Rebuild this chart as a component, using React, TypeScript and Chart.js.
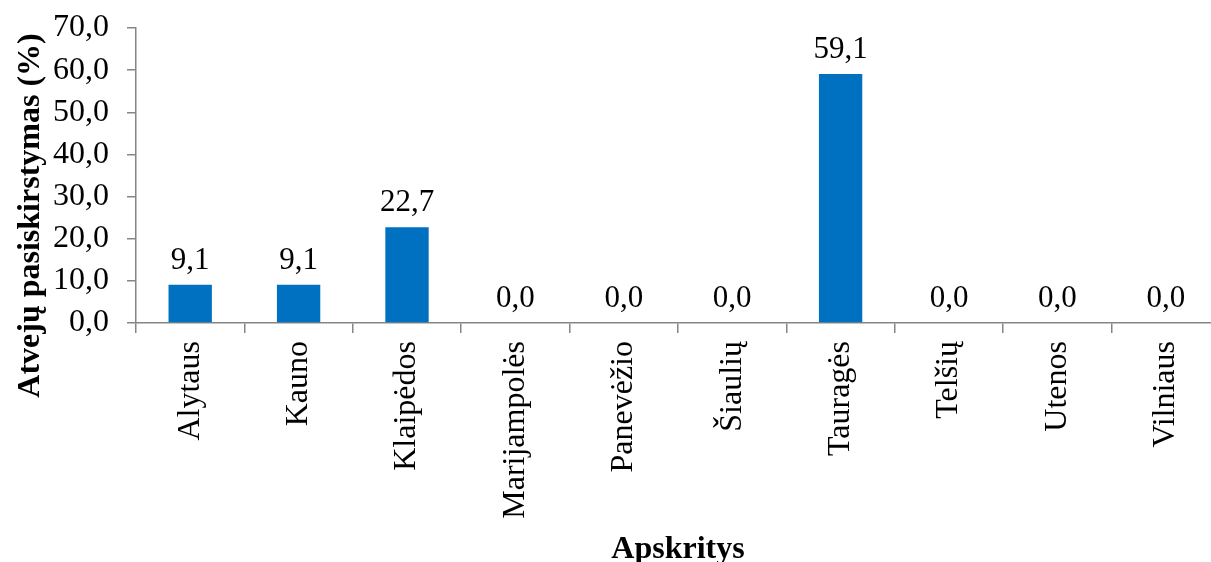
import React, { useEffect, useRef } from "react";
import { Chart, registerables } from "chart.js";

Chart.register(...registerables);

const categories = ["Alytaus", "Kauno", "Klaipėdos", "Marijampolės", "Panevėžio", "Šiaulių", "Tauragės", "Telšių", "Utenos", "Vilniaus"];
const values = [9.1, 9.1, 22.7, 0.0, 0.0, 0.0, 59.1, 0.0, 0.0, 0.0];
const yTitle = "Atvejų pasiskirstymas (%)";
const xTitle = "Apskritys";
const yMin = 0;
const yMax = 70;
const yStep = 10;

const FONT = "'Liberation Serif', 'Times New Roman', serif";
const fmt = (v: number) => v.toFixed(1).replace(".", ",");

const labelPlugin = {
  id: "barLabels",
  afterDatasetsDraw(chart: any) {
    const ctx = chart.ctx;
    const meta = chart.getDatasetMeta(0);
    ctx.save();
    ctx.font = `31px ${FONT}`;
    ctx.fillStyle = "#000";
    ctx.textAlign = "center";
    ctx.textBaseline = "alphabetic";
    meta.data.forEach((el: any, i: number) => {
      ctx.fillText(fmt(values[i]), el.x, el.y - 16);
    });
    ctx.restore();
  },
};

// y-axis title: placed like the source chart (centred lower than the plot area)
const yTitlePlugin = {
  id: "yTitle",
  afterDraw(chart: any) {
    const ctx = chart.ctx;
    const area = chart.chartArea;
    ctx.save();
    ctx.font = `bold 32px ${FONT}`;
    ctx.fillStyle = "#000";
    ctx.textAlign = "center";
    ctx.textBaseline = "middle";
    ctx.translate(31, (area.top + area.bottom) / 2 + 40);
    ctx.rotate(-Math.PI / 2);
    ctx.fillText(yTitle, 0, 0);
    ctx.restore();
  },
};

export default function App() {
  const ref = useRef<HTMLCanvasElement | null>(null);
  useEffect(() => {
    if (!ref.current) return;
    const chart = new Chart(ref.current, {
      type: "bar",
      data: {
        labels: categories,
        datasets: [
          {
            data: values,
            backgroundColor: "#0070C0",
            borderWidth: 0,
            categoryPercentage: 1,
            barPercentage: 0.4,
          },
        ],
      },
      options: {
        animation: false,
        responsive: true,
        maintainAspectRatio: false,
        layout: { padding: { top: 28, right: 8, left: 0, bottom: 0 } },
        plugins: { legend: { display: false }, tooltip: { enabled: false } },
        scales: {
          x: {
            grid: { drawOnChartArea: false, drawTicks: true, tickLength: 10, color: "#868686", lineWidth: 1.5, offset: true },
            border: { color: "#868686", width: 1.5 },
            ticks: {
              color: "#000",
              font: { family: FONT, size: 32 },
              minRotation: 90,
              maxRotation: 90,
              autoSkip: false,
              padding: 8,
            },
            title: {
              display: true,
              text: xTitle,
              color: "#000",
              font: { family: FONT, size: 32, weight: "bold" },
              padding: { top: 0, bottom: 11 },
            },
            afterFit: (s: any) => {
              s.height = 580 - 323;
              s.paddingLeft = 0;
              s.paddingRight = 0;
            },
          },
          y: {
            min: yMin,
            max: yMax,
            grid: { drawOnChartArea: false, drawTicks: true, tickLength: 9, color: "#868686", lineWidth: 1.5 },
            border: { color: "#868686", width: 1.5 },
            ticks: {
              stepSize: yStep,
              autoSkip: false,
              color: "#000",
              font: { family: FONT, size: 32 },
              padding: 18,
              callback: (v: any) => fmt(Number(v)),
            },
            title: { display: false },
            afterFit: (s: any) => {
              s.width = 136;
              s.paddingTop = 0;
              s.paddingBottom = 0;
            },
          },
        },
      },
      plugins: [labelPlugin, yTitlePlugin],
    });
    return () => chart.destroy();
  }, []);
  return (
    <div style={{ position: "fixed", left: 0, top: 0, width: 1211, height: 562, overflow: "hidden", background: "#fff" }}>
      <div style={{ position: "absolute", left: 0, top: 0, width: 1228, height: 580 }}>
        <canvas ref={ref} />
      </div>
    </div>
  );
}
